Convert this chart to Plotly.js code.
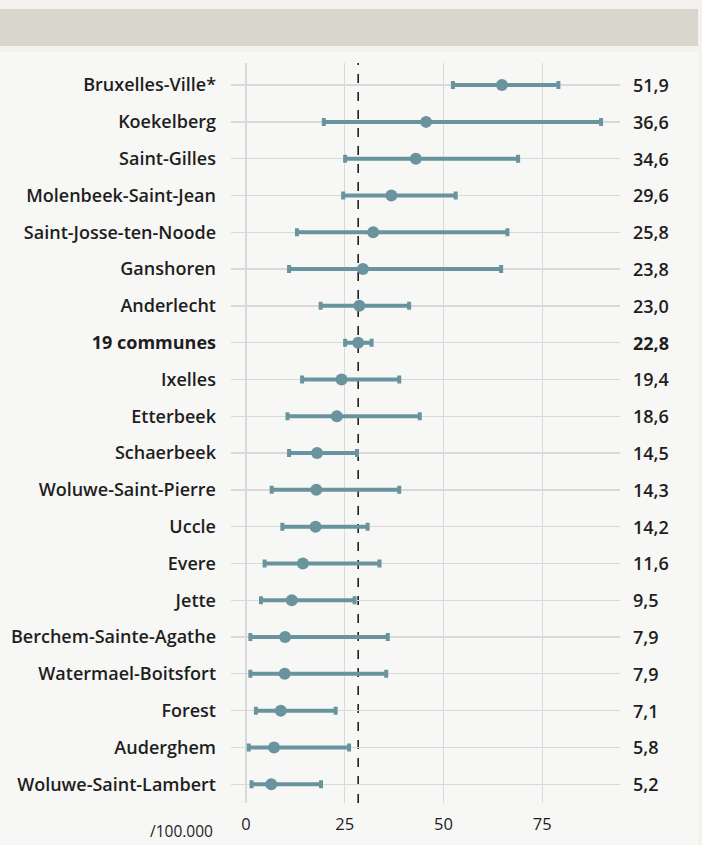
<!DOCTYPE html>
<html>
<head>
<meta charset="utf-8">
<script src="https://cdn.plot.ly/plotly-3.0.1.min.js"></script>
<style>
  html, body { margin: 0; padding: 0; background: #f3f2ef; }
  #wrap { position: relative; width: 702px; height: 845px; background: #f3f2ef; overflow: hidden; }
  #band { position: absolute; left: 0; top: 9px; width: 698px; height: 37px; background: #d9d6ce; }
  #panel { position: absolute; left: 0; top: 52px; width: 698px; height: 800px; background: #f7f7f5; }
  #chart { position: absolute; left: 0; top: 0; width: 702px; height: 845px; }
</style>
</head>
<body>
<div id="wrap">
  <div id="band"></div>
  <div id="panel"></div>
  <div id="chart"></div>
</div>
<script>
const communes = ["Bruxelles-Ville*", "Koekelberg", "Saint-Gilles", "Molenbeek-Saint-Jean", "Saint-Josse-ten-Noode",
  "Ganshoren", "Anderlecht", "19 communes", "Ixelles", "Etterbeek", "Schaerbeek", "Woluwe-Saint-Pierre", "Uccle",
  "Evere", "Jette", "Berchem-Sainte-Agathe", "Watermael-Boitsfort", "Forest", "Auderghem", "Woluwe-Saint-Lambert"];
const rateLabels = ["51,9", "36,6", "34,6", "29,6", "25,8", "23,8", "23,0", "22,8", "19,4", "18,6", "14,5", "14,3", "14,2",
  "11,6", "9,5", "7,9", "7,9", "7,1", "5,8", "5,2"];
const pointValues = [64.8, 45.6, 43.0, 36.8, 32.2, 29.6, 28.7, 28.4, 24.2, 23.0, 18.0, 17.8, 17.6, 14.4, 11.6, 9.9, 9.8, 8.8, 7.1, 6.4];
const lowValues = [52.4, 19.7, 25.1, 24.6, 12.9, 10.9, 18.9, 25.1, 14.2, 10.5, 10.9, 6.5, 9.2, 4.7, 3.8, 1.1, 1.1, 2.5, 0.7, 1.4];
const highValues = [79.1, 89.9, 68.9, 53.1, 66.2, 64.6, 41.3, 31.8, 38.8, 44.0, 28.1, 38.8, 30.8, 33.8, 27.5, 35.9, 35.5, 22.7, 26.1, 19.0];
const referenceValue = 28.4;
const xTicks = [0, 25, 50, 75];
const unitLabel = "/100.000";
const totalName = "19 communes";

const color = "#6a949d";
const fam = "'Open Sans', sans-serif";
const idx = communes.map((_, i) => i);
const tickText = communes.map(c => c === totalName ? "<b>" + c + "</b>" : c);

const trace = {
  type: "scatter",
  mode: "markers",
  x: pointValues,
  y: idx,
  marker: { color: color, size: 12 },
  error_x: {
    type: "data",
    symmetric: false,
    array: highValues.map((h, i) => h - pointValues[i]),
    arrayminus: pointValues.map((p, i) => p - lowValues[i]),
    color: color,
    thickness: 4,
    width: 4
  },
  hoverinfo: "skip",
  showlegend: false
};

const annotations = communes.map((c, i) => ({
  xref: "paper", yref: "y", x: 1, y: i, xanchor: "left", yanchor: "middle", xshift: 11,
  text: c === totalName ? "<b>" + rateLabels[i] + "</b>" : rateLabels[i],
  showarrow: false, font: { family: fam, size: 18, color: "#1e1e1e", weight: 600 }
}));
annotations.push({
  xref: "paper", yref: "paper", x: 0, y: 0, xanchor: "right", yanchor: "top", xshift: -16, yshift: -15,
  text: unitLabel, showarrow: false, font: { family: fam, size: 15.5, color: "#1e1e1e", weight: 500 }
});

const layout = {
  width: 702, height: 845,
  margin: { l: 231, r: 82, t: 63, b: 42 },
  paper_bgcolor: "rgba(0,0,0,0)",
  plot_bgcolor: "rgba(0,0,0,0)",
  font: { family: fam, size: 18, color: "#1e1e1e", weight: 600 },
  xaxis: {
    range: [-3.8, 94.7],
    tickvals: xTicks,
    ticktext: xTicks.map(String),
    showgrid: true, gridcolor: "#d9d9d9", gridwidth: 1.3,
    zeroline: false, showline: false, ticks: "",
    tickfont: { family: fam, size: 16.5, weight: 500 },
    ticklabelstandoff: 9
  },
  yaxis: {
    range: [19.51, -0.6],
    tickvals: idx,
    ticktext: tickText,
    showgrid: true, gridcolor: "#d9d9d9", gridwidth: 1.3,
    zeroline: false, showline: false, ticks: "",
    ticklabelstandoff: 14
  },
  shapes: [{
    type: "line", xref: "x", yref: "paper", x0: referenceValue, x1: referenceValue, y0: 0, y1: 1,
    line: { color: "#111", width: 1.5, dash: "dash" }, layer: "below"
  }],
  annotations: annotations
};

Plotly.newPlot("chart", [trace], layout, { staticPlot: true, displayModeBar: false });
</script>
</body>
</html>
